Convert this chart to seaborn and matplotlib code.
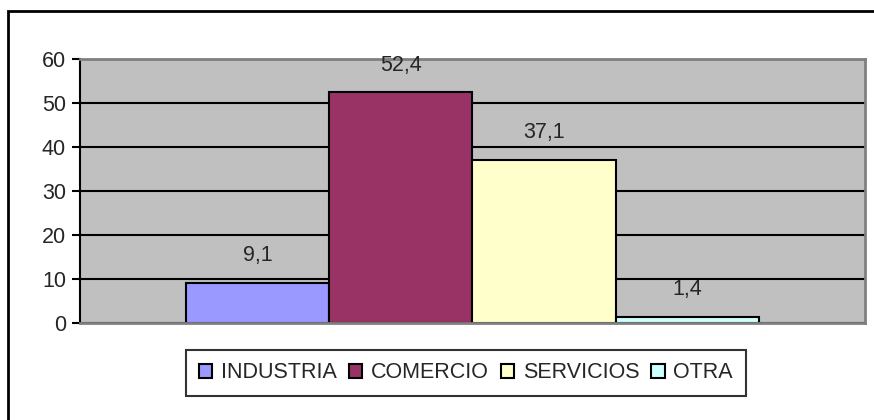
import matplotlib
matplotlib.use('Agg')
import matplotlib.pyplot as plt
import seaborn as sns
import pandas as pd
from matplotlib.patches import Rectangle

# data
sectores = ['INDUSTRIA', 'COMERCIO', 'SERVICIOS', 'OTRA']
valores = [9.1, 52.4, 37.1, 1.4]
colores = ['#9999FF', '#993366', '#FFFFCC', '#CCFFFF']
yticks = [0, 10, 20, 30, 40, 50, 60]

df = pd.DataFrame({'grupo': [''] * len(sectores), 'sector': sectores, 'valor': valores})

sns.set_style('white')
plt.rcParams['font.family'] = ['Liberation Sans', 'DejaVu Sans']
fs = 15.5

fig = plt.figure(figsize=(8.74, 4.2), dpi=100)
ax = fig.add_axes([0.0915, 0.231, 0.8982, 0.6285])

sns.barplot(data=df, x='grupo', y='valor', hue='sector', hue_order=sectores,
            palette=colores, width=0.729, edgecolor='black', linewidth=1.5,
            saturation=1, ax=ax, legend=True)

ax.set_facecolor('#C0C0C0')
ax.set_ylim(0, 60)
ax.set_xlim(-0.5, 0.5)
ax.set_yticks(yticks)
ax.set_yticklabels([str(t) for t in yticks], fontsize=fs)
ax.yaxis.grid(True, color='black', lw=1.5)
ax.set_axisbelow(True)
ax.set_xticks([])
ax.set_xlabel('')
ax.set_ylabel('')
ax.tick_params(axis='y', which='major', left=True, length=6, width=1.5, color='black', pad=4)
for s in ['top', 'right', 'bottom']:
    ax.spines[s].set_color('#808080')
    ax.spines[s].set_linewidth(2)
ax.spines['left'].set_color('black')
ax.spines['left'].set_linewidth(1.5)

for cont, v in zip(ax.containers, valores):
    ax.bar_label(cont, labels=[f'{v:.1f}'.replace('.', ',')], padding=12, fontsize=fs)

ax.legend_.remove()
handles = [Rectangle((0, 0), 1, 1, facecolor=c, edgecolor='black', lw=1.5) for c in colores]
leg = fig.legend(handles, sectores, loc='center', bbox_to_anchor=(0.533, 0.112), ncol=4,
                 fontsize=fs, frameon=True, fancybox=False, handlelength=0.63, handleheight=0.63,
                 handletextpad=0.4, columnspacing=0.55, borderpad=0.6, borderaxespad=0)
leg.get_frame().set_edgecolor('black')
leg.get_frame().set_linewidth(1.5)

# outer chart border
fig.patches.append(Rectangle((8 / 874, -0.05), 1.0, 1 - 11 / 420 + 0.05, transform=fig.transFigure,
                             fill=False, edgecolor='black', lw=2, clip_on=False))

fig.savefig('out.png', dpi=100)
